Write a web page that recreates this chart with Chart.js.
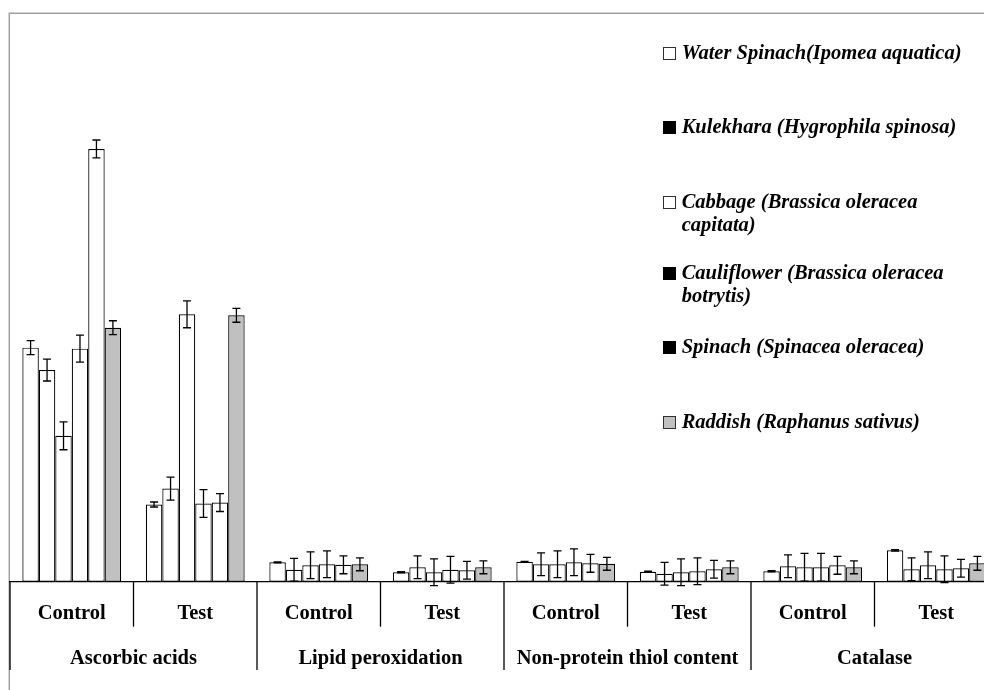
<!DOCTYPE html>
<html><head><meta charset="utf-8">
<script src="https://cdn.jsdelivr.net/npm/chart.js@4.4.0/dist/chart.umd.min.js"></script>
<style>
html,body{margin:0;padding:0;background:#fff;overflow:hidden;width:984px;height:690px;}
#wrap{position:absolute;left:0;top:0;width:1000px;height:690px;}
canvas{display:block;}
.leg{position:absolute;left:681.7px;width:292px;font-family:"Liberation Serif","Times New Roman",serif;font-weight:bold;font-style:italic;font-size:20.5px;line-height:23px;color:#000;}
.sw{position:absolute;left:663px;width:11px;height:11px;border:1px solid #303030;box-sizing:content-box;}
</style></head>
<body>
<div id="wrap"><canvas id="c" width="1000" height="690"></canvas></div>
<script>
// ---- data ----
const subLabels = ['Control','Test','Control','Test','Control','Test','Control','Test'];
const groupLabels = ['Ascorbic acids','Lipid peroxidation','Non-protein thiol content','Catalase'];
const seriesNames = ['Water Spinach(Ipomea aquatica)','Kulekhara (Hygrophila spinosa)','Cabbage (Brassica oleracea capitata)','Cauliflower (Brassica oleracea botrytis)','Spinach (Spinacea oleracea)','Raddish (Raphanus sativus)'];
const waterSpinach    = [47.0, 15.5, 3.9, 1.9, 4.0, 2.0, 2.1, 6.3];
const waterSpinachErr = [1.4, 0.5, 0.1, 0.1, 0.1, 0.1, 0.1, 0.15];
const kulekhara       = [42.5, 18.7, 2.4, 2.9, 3.5, 1.6, 3.1, 2.5];
const kulekharaErr    = [2.2, 2.3, 2.3, 2.3, 2.3, 2.3, 2.3, 2.3];
const cabbage         = [29.3, 53.7, 3.3, 1.9, 3.5, 1.9, 2.9, 3.3];
const cabbageErr      = [2.8, 2.7, 2.7, 2.7, 2.7, 2.7, 2.8, 2.7];
const cauliflower     = [46.8, 15.7, 3.5, 2.4, 3.9, 2.1, 2.9, 2.5];
const cauliflowerErr  = [2.7, 2.8, 2.7, 2.7, 2.7, 2.7, 2.8, 2.7];
const spinach         = [86.9, 15.9, 3.4, 2.3, 3.7, 2.5, 3.3, 2.7];
const spinachErr      = [1.8, 1.8, 1.8, 1.8, 1.8, 1.8, 1.8, 1.8];
const raddish         = [51.0, 53.5, 3.5, 2.9, 3.6, 2.9, 2.9, 3.7];
const raddishErr      = [1.4, 1.4, 1.3, 1.3, 1.3, 1.3, 1.3, 1.4];

const seriesValues = [waterSpinach, kulekhara, cabbage, cauliflower, spinach, raddish];
const seriesErrors = [waterSpinachErr, kulekharaErr, cabbageErr, cauliflowerErr, spinachErr, raddishErr];
const barColors = ['#ffffff','#ffffff','#ffffff','#ffffff','#ffffff','#c0c0c0'];
const swatchColors = ['#ffffff','#000000','#ffffff','#000000','#000000','#c0c0c0'];

// ---- legend (HTML) ----
const legendBoxTops = [46.7, 121, 195.7, 266.7, 340.7, 416];
const wrap = document.getElementById('wrap');
seriesNames.forEach((name, i) => {
  const sw = document.createElement('div');
  sw.className = 'sw';
  sw.style.top = legendBoxTops[i] + 'px';
  sw.style.background = swatchColors[i];
  if (swatchColors[i] === '#000000') sw.style.borderColor = '#000';
  wrap.appendChild(sw);
  const t = document.createElement('div');
  t.className = 'leg';
  t.style.top = (legendBoxTops[i] + 12.5 - 18.4) + 'px';
  t.textContent = name;
  wrap.appendChild(t);
});

const FONT = '"Liberation Serif","Times New Roman",serif';

const framePlugin = {
  id: 'frame',
  beforeDraw(chart) {
    const c = chart.ctx;
    c.save();
    c.strokeStyle = '#a0a0a0';
    c.lineWidth = 1.5;
    c.beginPath();
    c.moveTo(9.3, 690); c.lineTo(9.3, 13.3); c.lineTo(1000, 13.3);
    c.stroke();
    c.restore();
  }
};

const errPlugin = {
  id: 'errbars',
  afterDatasetsDraw(chart) {
    const c = chart.ctx, y = chart.scales.y;
    c.save();
    c.strokeStyle = '#000';
    c.lineWidth = 1.3;
    chart.data.datasets.forEach((ds, di) => {
      const meta = chart.getDatasetMeta(di);
      meta.data.forEach((bar, j) => {
        const v = ds.data[j], e = seriesErrors[di][j];
        const x = bar.x;
        const y1 = y.getPixelForValue(v + e), y2 = y.getPixelForValue(v - e);
        c.beginPath();
        c.moveTo(x, y1); c.lineTo(x, y2);
        c.moveTo(x - 4, y1); c.lineTo(x + 4, y1);
        c.moveTo(x - 4, y2); c.lineTo(x + 4, y2);
        c.stroke();
      });
    });
    c.restore();
  }
};

const axisPlugin = {
  id: 'groupAxis',
  afterDraw(chart) {
    const c = chart.ctx, xs = chart.scales.x;
    const base = xs.top;
    const n = subLabels.length;
    const w = xs.getPixelForValue(1) - xs.getPixelForValue(0);
    c.save();
    c.strokeStyle = '#000';
    c.lineWidth = 1.3;
    for (let i = 0; i <= n; i++) {
      const bx = xs.getPixelForValue(Math.min(i, n - 1)) + (i < n ? -w / 2 : w / 2);
      c.beginPath();
      c.moveTo(bx, base);
      c.lineTo(bx, base + (i % 2 === 0 ? 88.3 : 45));
      c.stroke();
    }
    c.fillStyle = '#000';
    c.font = 'bold 20.5px ' + FONT;
    c.textAlign = 'center';
    c.textBaseline = 'middle';
    groupLabels.forEach((g, k) => {
      const cx = (xs.getPixelForValue(2 * k) + xs.getPixelForValue(2 * k + 1)) / 2;
      c.fillText(g, cx, base + 77);
    });
    c.restore();
  }
};

new Chart(document.getElementById('c'), {
  type: 'bar',
  data: {
    labels: subLabels,
    datasets: seriesValues.map((vals, i) => ({
      label: seriesNames[i],
      data: vals,
      backgroundColor: barColors[i],
      borderColor: '#000',
      borderWidth: 1.2,
      borderSkipped: false,
      barPercentage: 1.0,
      categoryPercentage: 0.8
    }))
  },
  options: {
    responsive: false,
    animation: false,
    devicePixelRatio: 1,
    layout: { padding: { left: 10, right: 2, top: 14, bottom: 0 } },
    plugins: { legend: { display: false }, tooltip: { enabled: false } },
    scales: {
      x: {
        grid: { display: false, drawTicks: false },
        border: { display: true, color: '#000', width: 1.3 },
        ticks: { color: '#000', font: { family: FONT, size: 20.5, weight: 'bold' }, padding: 20, maxRotation: 0, autoSkip: false },
        afterFit(s) { s.height = 108.3; }
      },
      y: { display: false, min: 0, max: 114 }
    }
  },
  plugins: [framePlugin, errPlugin, axisPlugin]
});
</script>
</body></html>
